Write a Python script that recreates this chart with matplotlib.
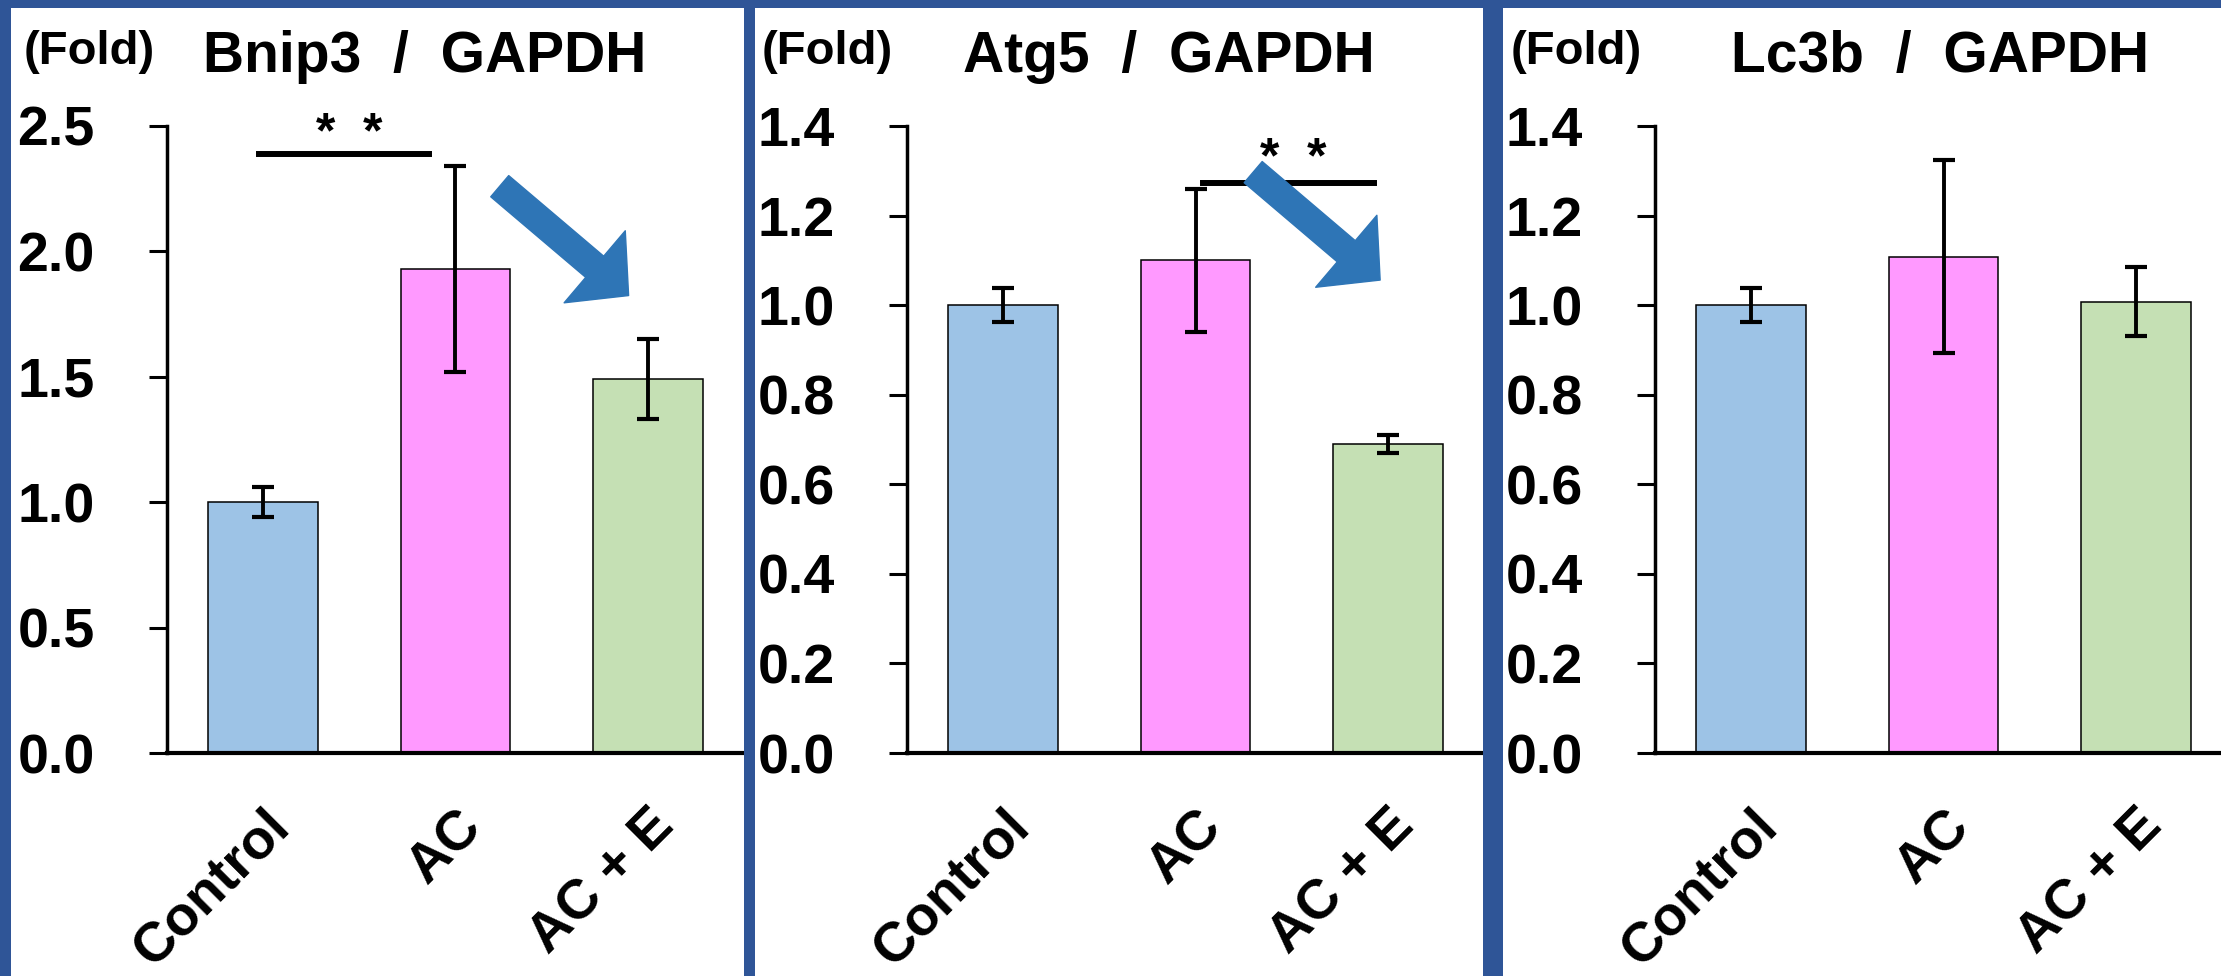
import matplotlib
matplotlib.use("Agg")
import matplotlib.pyplot as plt
import matplotlib.transforms as mtransforms
from matplotlib.patches import Rectangle

plt.rcParams['font.family'] = ['Liberation Sans', 'Noto Sans CJK JP']
plt.rcParams['font.weight'] = 'bold'

# data
groups = ["Control", "AC", "AC + E"]
bar_colors = ["#9DC3E6", "#FF99FF", "#C5E0B4"]

titles = ["Bnip3  /  GAPDH", "Atg5  /  GAPDH", "Lc3b  /  GAPDH"]
bnip3 = [1.00, 1.93, 1.49]
bnip3_err = [0.06, 0.41, 0.16]
atg5 = [1.00, 1.10, 0.69]
atg5_err = [0.038, 0.16, 0.021]
lc3b = [1.00, 1.108, 1.008]
lc3b_err = [0.038, 0.215, 0.077]
means = [bnip3, atg5, lc3b]
errs = [bnip3_err, atg5_err, lc3b_err]
ylims = [2.5, 1.4, 1.4]
yticks = [[0.0, 0.5, 1.0, 1.5, 2.0, 2.5],
          [0.0, 0.2, 0.4, 0.6, 0.8, 1.0, 1.2, 1.4],
          [0.0, 0.2, 0.4, 0.6, 0.8, 1.0, 1.2, 1.4]]

# significance bars: (x0, x1, y) in data units, None for no bar
sig = [(-0.02, 0.86, 2.39), (1.04, 1.93, 1.273), None]
sig_star = [(0.45, 2.465), (1.51, 1.325), None]
# blue arrows: (tail, tip) in data units
arrows = [((1.23, 2.26), (1.90, 1.824)), ((1.30, 1.297), (1.96, 1.056)), None]

W, H = 2221, 976
fig = plt.figure(figsize=(W / 100, H / 100), dpi=100)
fig.patch.set_facecolor("white")

ax_left = [167, 907, 1655]
title_x = [425, 1169, 1940]
fold_x = [24, 762, 1511]
ax_w, ax_top, ax_bot = 577, 126, 753

for i in range(3):
    ax = fig.add_axes([ax_left[i] / W, (H - ax_bot) / H, ax_w / W, (ax_bot - ax_top) / H])
    x = range(len(groups))
    ax.bar(x, means[i], width=0.57, color=bar_colors, edgecolor="black", linewidth=1.1, zorder=2)
    ax.errorbar(x, means[i], yerr=errs[i], fmt="none", ecolor="black",
                elinewidth=2.8, capsize=8, capthick=3.0, zorder=3)
    ax.set_xlim(-0.5, 2.5)
    ax.set_ylim(0, ylims[i])
    ax.set_yticks(yticks[i])
    ax.set_yticklabels([f"{v:.1f}" for v in yticks[i]])
    ax.set_xticks(list(x))
    ax.set_xticklabels(groups, rotation=45, ha="right", va="top", rotation_mode="anchor")
    for lab in ax.get_xticklabels():
        lab.set_transform(lab.get_transform() + mtransforms.ScaledTranslation(6 / 72, 0, fig.dpi_scale_trans))
    ax.tick_params(axis="y", direction="out", length=13, width=2.2, pad=39, labelsize=40)
    ax.tick_params(axis="x", length=0, pad=34, labelsize=40)
    for s in ["top", "right"]:
        ax.spines[s].set_visible(False)
    ax.spines["left"].set_linewidth(2.5)
    ax.spines["bottom"].set_linewidth(3.0)
    ax.patch.set_alpha(0)

    if sig[i] is not None:
        x0, x1, yy = sig[i]
        ax.plot([x0, x1], [yy, yy], color="black", lw=4.3, clip_on=False, zorder=4)
        ax.text(sig_star[i][0], sig_star[i][1], "*  *", ha="center", va="center",
                fontsize=36, clip_on=False, zorder=4)
    if arrows[i] is not None:
        tail, tip = arrows[i]
        ax.annotate("", xy=tip, xytext=tail, xycoords="data", textcoords="data",
                    arrowprops=dict(arrowstyle="simple,head_length=32,head_width=68,tail_width=20",
                                    color="#2E75B6", shrinkA=0, shrinkB=0, mutation_scale=1),
                    zorder=5, annotation_clip=False)

    fig.text(title_x[i] / W, 1 - 57 / H, titles[i], ha="center", va="center", fontsize=41)
    fig.text(fold_x[i] / W, 1 - 52 / H, "(Fold)", ha="left", va="center", fontsize=34)

# blue frame around panels
border = "#2F5597"
for (x0, y0, bw, bh) in [(0, 0, W, 8), (0, 0, 11, H), (744, 0, 11, H), (1483, 0, 20, H)]:
    fig.add_artist(Rectangle((x0 / W, 1 - (y0 + bh) / H), bw / W, bh / H,
                             transform=fig.transFigure, facecolor=border, edgecolor="none", zorder=10))

fig.savefig("out.png", dpi=100)
